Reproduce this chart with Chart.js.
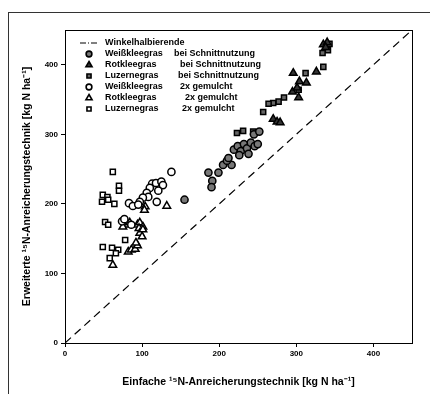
<!DOCTYPE html>
<html>
<head>
<meta charset="utf-8">
<script src="https://cdn.jsdelivr.net/npm/chart.js@4/dist/chart.umd.min.js"></script>
<style>
  body { margin: 0; background: #fff; overflow: hidden; }
  #wrap { position: relative; width: 430px; height: 394px; }
  #frame { position: absolute; left: 8px; top: 12px; width: 430px; height: 400px;
           border-left: 1px solid #333; border-top: 1px solid #333; pointer-events: none; }
  canvas { position: absolute; left: 0; top: 0; }
</style>
</head>
<body>
<div id="wrap">
  <canvas id="chart" width="430" height="394"></canvas>
  <div id="frame"></div>
</div>
<script>
// values [einfache, erweiterte] in kg N/ha
const weissSchnitt = [[155,206],[186,245],[199,245],[191,233],[190,224],[205,256],[216,256],[210,262],[212,266],
  [219,278],[224,283],[228,276],[232,286],[236,280],[241,288],[246,283],[250,286],[226,270],[238,272],[245,300],[252,304]];
const rotSchnitt = [[296,388],[326,390],[304,376],[313,374],[295,361],[301,367],[303,353],[270,322],[275,318],
  [279,317],[335,429],[340,432],[338,425]];
const luzerneSchnitt = [[340,426],[341,421],[334,417],[335,397],[312,388],[303,364],[284,353],[277,347],[270,345],
  [264,344],[257,332],[231,305],[223,302],[244,304],[343,430]];
const weissMulch = [[138,246],[113,229],[118,230],[125,232],[127,227],[110,223],[121,219],[106,216],[108,210],
  [101,209],[97,203],[83,201],[88,197],[95,199],[119,203],[74,175],[77,178],[86,170]];
const rotMulch = [[132,197],[104,196],[103,191],[78,174],[81,170],[75,167],[84,173],[94,170],[97,173],[101,167],
  [96,165],[97,158],[100,153],[101,163],[82,131],[86,134],[91,135],[94,140],[92,144],[62,112]];
const luzerneMulch = [[62,246],[70,226],[70,219],[49,213],[55,210],[48,203],[56,206],[64,200],[52,174],[56,170],
  [49,138],[61,137],[69,134],[66,129],[58,122],[78,148]];
const diagonal = [[0,0],[450,450]];

const legendNames = ['Winkelhalbierende', 'Weißkleegras', 'Rotkleegras', 'Luzernegras', 'Weißkleegras', 'Rotkleegras', 'Luzernegras'];
const legendSuffix = ['', 'bei Schnittnutzung', 'bei Schnittnutzung', 'bei Schnittnutzung', '2x gemulcht', '2x gemulcht', '2x gemulcht'];
const axisTicks = [0, 100, 200, 300, 400];

const toXY = arr => arr.map(p => ({ x: p[0], y: p[1] }));

function pts(data, style, fill, radius) {
    return {
        data: toXY(data),
        pointStyle: style,
        pointRadius: radius,
        pointBackgroundColor: fill,
        pointBorderColor: '#000',
        pointBorderWidth: 1.5,
        showLine: false
    };
}

const datasets = [
    {
        data: toXY(diagonal),
        showLine: true,
        borderColor: '#000',
        borderWidth: 1.2,
        borderDash: [8, 5],
        pointRadius: 0
    },
    pts(weissSchnitt, 'circle', '#777', 3.6),
    pts(rotSchnitt, 'triangle', '#333', 4.4),
    pts(luzerneSchnitt, 'rect', '#666', 3.6),
    pts(weissMulch, 'circle', '#fff', 3.6),
    pts(rotMulch, 'triangle', '#fff', 4.4),
    pts(luzerneMulch, 'rect', '#fff', 3.6)
];

// box round the plot area
const boxPlugin = {
    id: 'box',
    afterDraw(chart) {
        const a = chart.chartArea, c = chart.ctx;
        c.save();
        c.strokeStyle = '#000';
        c.lineWidth = 1;
        c.strokeRect(a.left + 0.5, a.top + 0.5, a.right - a.left, a.bottom - a.top);
        c.restore();
    }
};

// legend drawn inside the plot, top left
const legendPlugin = {
    id: 'innerLegend',
    afterDraw(chart) {
        const c = chart.ctx;
        c.save();
        c.font = 'bold 9px "Liberation Sans", Arial, sans-serif';
        c.fillStyle = '#000';
        c.textBaseline = 'middle';
        legendNames.forEach((name, i) => {
            const y = 43 + i * 11;
            const ds = chart.data.datasets[i];
            if (i === 0) {
                c.strokeStyle = '#000';
                c.lineWidth = 1;
                c.setLineDash([6, 2, 1, 2]);
                c.beginPath();
                c.moveTo(80, y);
                c.lineTo(98, y);
                c.stroke();
                c.setLineDash([]);
            } else {
                c.fillStyle = ds.pointBackgroundColor;
                c.strokeStyle = '#000';
                c.lineWidth = 1.6;
                Chart.helpers.drawPoint(c, { pointStyle: ds.pointStyle, radius: ds.pointRadius * 0.8, rotation: 0, borderWidth: 1.6 }, 89, y);
                c.fillStyle = '#000';
            }
            c.fillText(name, 105, y);
            if (legendSuffix[i]) {
                const sx = [0, 174, 180, 178, 180, 185, 182][i];
                c.fillText(legendSuffix[i], sx, y);
            }
        });
        c.restore();
    }
};

const tickFont = { family: '"Liberation Sans", Arial, sans-serif', size: 8, weight: 'bold' };
const titleFont = { family: '"Liberation Sans", Arial, sans-serif', size: 10.5, weight: 'bold' };

new Chart(document.getElementById('chart'), {
    type: 'scatter',
    data: { datasets: datasets },
    options: {
        responsive: false,
        animation: false,
        layout: { padding: { left: 10, top: 30, right: 18, bottom: 0 } },
        plugins: { legend: { display: false }, tooltip: { enabled: false } },
        scales: {
            x: {
                type: 'linear',
                min: 0,
                max: 450,
                afterBuildTicks: s => { s.ticks = axisTicks.map(v => ({ value: v })); },
                afterFit: s => { s.height = 51; },
                ticks: { font: tickFont, color: '#000', padding: 2 },
                grid: { drawOnChartArea: false, tickLength: 4, color: '#000' },
                border: { color: '#000' },
                title: {
                    display: true,
                    text: 'Einfache ¹⁵N-Anreicherungstechnik [kg N ha⁻¹]',
                    font: titleFont,
                    color: '#000',
                    padding: { top: 0, bottom: 6 }
                }
            },
            y: {
                type: 'linear',
                min: 0,
                max: 450,
                afterBuildTicks: s => { s.ticks = axisTicks.map(v => ({ value: v })); },
                afterFit: s => { s.width = 55; },
                ticks: { font: tickFont, color: '#000', padding: 3 },
                grid: { drawOnChartArea: false, tickLength: 4, color: '#000' },
                border: { color: '#000' },
                title: {
                    display: true,
                    text: 'Erweiterte ¹⁵N-Anreicherungstechnik [kg N ha⁻¹]',
                    font: titleFont,
                    color: '#000',
                    padding: { top: 11, bottom: 0 }
                }
            }
        }
    },
    plugins: [boxPlugin, legendPlugin]
});
</script>
</body>
</html>
